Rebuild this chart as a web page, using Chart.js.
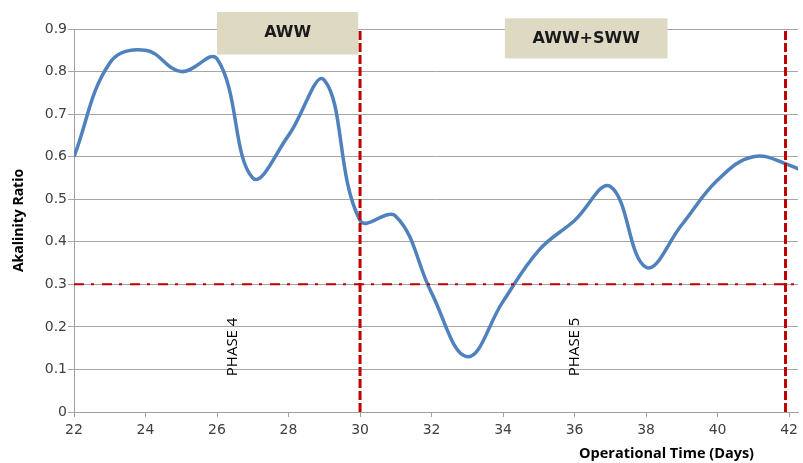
<!DOCTYPE html>
<html>
<head>
<meta charset="utf-8">
<script src="https://cdn.jsdelivr.net/npm/chart.js@4.4.1/dist/chart.umd.min.js"></script>
<style>
  html, body { margin: 0; padding: 0; background: #fff; }
  #wrap { width: 803px; height: 463px; }
</style>
</head>
<body>
<div id="wrap"><canvas id="alkChart" width="803" height="463"></canvas></div>
<script>
// Dados (dias de operação x razão de alcalinidade)
const days = [22, 23, 24, 25, 26, 27, 28, 29, 30, 31, 32, 33, 34, 35, 36, 37, 38, 39, 40, 41, 42, 43];
const alkalinity = [0.60, 0.82, 0.85, 0.80, 0.83, 0.55, 0.65, 0.78, 0.45, 0.46, 0.28, 0.13, 0.26, 0.38, 0.45, 0.53, 0.34, 0.44, 0.545, 0.60, 0.58, 0.54];

// Rótulos dos eixos
const xTicks = [22, 24, 26, 28, 30, 32, 34, 36, 38, 40, 42];
const yTicks = [0, 0.1, 0.2, 0.3, 0.4, 0.5, 0.6, 0.7, 0.8, 0.9];

// Linhas de referência
const phaseLimits = [30, 41.9];   // fim da fase 4 e da fase 5
const limitRatio = 0.3;           // razão limite

const xMin = 22, xMax = 42.25;
const yMin = 0, yMax = 0.9;

const RED = '#c00000';

// Datasets das linhas vermelhas (desenhados por cima da curva azul)
const limitLines = phaseLimits.map(d => ({
    data: [{ x: d, y: yMin }, { x: d, y: yMax }],
    borderColor: RED,
    borderWidth: 3,
    borderDash: [9, 3],
    pointRadius: 0,
    tension: 0
}));

const ratioLine = {
    data: [{ x: xMin, y: limitRatio }, { x: xMax, y: limitRatio }],
    borderColor: RED,
    borderWidth: 2,
    borderDash: [10, 7, 3, 8],
    pointRadius: 0,
    tension: 0
};

const mainLine = {
    data: days.map((d, i) => ({ x: d, y: alkalinity[i] })),
    borderColor: '#4f81bd',
    borderWidth: 3.5,
    pointRadius: 0,
    tension: 0.4,
    cubicInterpolationMode: 'default'
};

// Caixas e textos de anotação (em coordenadas dos dados)
const annotations = {
    id: 'annotations',
    afterDraw(chart) {
        const ctx = chart.ctx;
        const x = chart.scales.x, y = chart.scales.y;

        const boxes = [
            { text: 'AWW', x0: 26.0, x1: 29.95, y0: 0.94, y1: 0.84 },
            { text: 'AWW+SWW', x0: 34.05, x1: 38.6, y0: 0.925, y1: 0.831 }
        ];
        ctx.save();
        boxes.forEach(b => {
            const px0 = x.getPixelForValue(b.x0), px1 = x.getPixelForValue(b.x1);
            const py0 = y.getPixelForValue(b.y0), py1 = y.getPixelForValue(b.y1);
            ctx.fillStyle = '#ddd9c3';
            ctx.fillRect(px0, py0, px1 - px0, py1 - py0);
            ctx.fillStyle = '#1a1a1a';
            ctx.font = 'bold 16px "DejaVu Sans"';
            ctx.textAlign = 'center';
            ctx.textBaseline = 'middle';
            ctx.fillText(b.text, (px0 + px1) / 2, (py0 + py1) / 2);
        });

        // textos verticais das fases
        const phases = [{ text: 'PHASE 4', x: 26.45 }, { text: 'PHASE 5', x: 36.0 }];
        phases.forEach(p => {
            ctx.save();
            ctx.translate(x.getPixelForValue(p.x), y.getPixelForValue(0.153));
            ctx.rotate(-Math.PI / 2);
            ctx.fillStyle = '#000';
            ctx.font = '15px "Open Sans"';
            ctx.textAlign = 'center';
            ctx.textBaseline = 'middle';
            ctx.fillText(p.text, 0, 0);
            ctx.restore();
        });

        // título do eixo X (alinhado à direita, como no original)
        ctx.fillStyle = '#000';
        ctx.font = 'bold 14.5px "Open Sans"';
        ctx.textAlign = 'right';
        ctx.textBaseline = 'middle';
        ctx.fillText('Operational Time (Days)', chart.chartArea.right - 44, 454);
        ctx.restore();
    }
};

document.addEventListener('DOMContentLoaded', () => {
    const ctx = document.getElementById('alkChart');

    new Chart(ctx, {
        type: 'line',
        data: { datasets: [...limitLines, ratioLine, mainLine] },
        options: {
            responsive: false,
            devicePixelRatio: 1,
            animation: false,
            layout: { autoPadding: false, padding: { top: 29, right: 0, bottom: 0, left: 0 } },
            plugins: { legend: { display: false }, tooltip: { enabled: false } },
            scales: {
                x: {
                    type: 'linear',
                    min: xMin,
                    max: xMax,
                    afterFit: s => { s.height = 51; },
                    afterBuildTicks: s => { s.ticks = xTicks.map(v => ({ value: v })); },
                    grid: { drawOnChartArea: false, color: '#a0a0a0', tickLength: 5 },
                    border: { color: '#a0a0a0' },
                    ticks: {
                        color: '#404040',
                        font: { family: 'DejaVu Sans', size: 14 },
                        padding: 5,
                        maxRotation: 0,
                        autoSkip: false,
                        callback: v => String(v)
                    }
                },
                y: {
                    min: yMin,
                    max: yMax,
                    afterFit: s => { s.width = 74; },
                    afterBuildTicks: s => { s.ticks = yTicks.map(v => ({ value: v })); },
                    grid: { color: '#a6a6a6', tickLength: 6 },
                    border: { color: '#a0a0a0' },
                    ticks: {
                        color: '#404040',
                        font: { family: 'DejaVu Sans', size: 14 },
                        padding: 1,
                        callback: v => (v === 0 ? '0' : v.toFixed(1))
                    },
                    title: {
                        display: true,
                        text: 'Akalinity Ratio',
                        color: '#000',
                        font: { family: 'Open Sans', size: 14, weight: 'bold' },
                        padding: { top: 11, bottom: 0 }
                    }
                }
            }
        },
        plugins: [annotations]
    });
});
</script>
</body>
</html>
